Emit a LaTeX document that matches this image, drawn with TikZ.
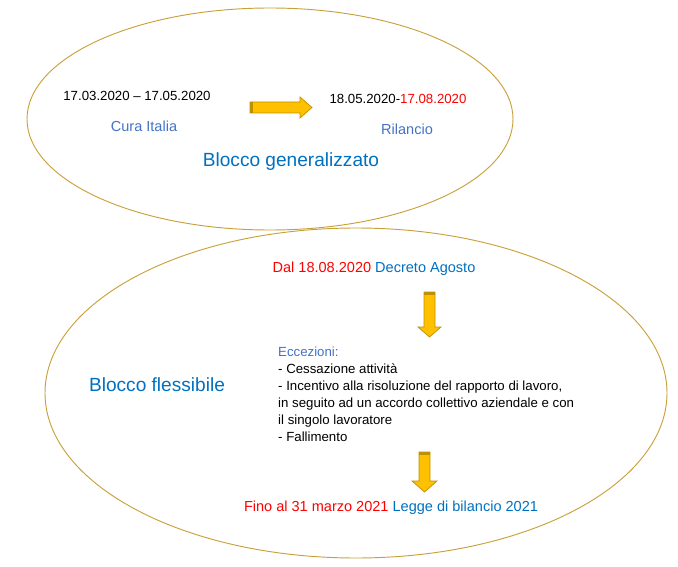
\documentclass[tikz,border=0pt]{standalone}
\usepackage{fontspec}
\setmainfont{Liberation Sans}
\usepackage{xcolor}

\definecolor{ringgold}{HTML}{C9A13B}
\definecolor{arrowfill}{HTML}{FFC000}
\definecolor{arrowline}{HTML}{BF9000}
\definecolor{softblue}{HTML}{4472C4}
\definecolor{deepblue}{HTML}{0070C0}
\definecolor{datered}{HTML}{FF0000}

\tikzset{
  ring/.style={draw=ringgold, line width=0.8pt},
  label/.style={inner sep=0pt, font=\fontsize{11.3}{13.5}\selectfont},
  wordlabel/.style={inner sep=0pt, font=\fontsize{12.4}{14.5}\selectfont},
  bigtitle/.style={inner sep=0pt, text=deepblue, font=\fontsize{16.3}{19}\selectfont},
  goldarrow/.style={fill=arrowfill, draw=arrowline, line width=0.6pt, line join=miter}
}

\begin{document}
\begin{tikzpicture}[x=0.03cm, y=-0.03cm]
\useasboundingbox (0,0) rectangle (678,567);

% the two periods
\draw[ring] (270,119) ellipse [x radius=243, y radius=111];
\draw[ring] (356,393) ellipse [x radius=311, y radius=165];

% upper ellipse
\node[label] (curadate) at (137,96) {17.03.2020 -- 17.05.2020};
\node[wordlabel, text=softblue] (cura) at (144,126) {Cura Italia};
\node[label] (rilanciodate) at (398,99) {18.05.2020-\textcolor{datered}{17.08.2020}};
\node[wordlabel, text=softblue] (rilancio) at (407,129) {Rilancio};
\node[bigtitle] (generale) at (291,162) {Blocco generalizzato};

% right arrow
\draw[goldarrow] (250,102) -- (300,102) -- (300,97) -- (312,107.5)
  -- (300,118) -- (300,113) -- (250,113) -- cycle;
\fill[arrowline] (250,102) rectangle (253,113);

% lower ellipse
\node[wordlabel] (agosto) at (374,269)
  {\textcolor{datered}{Dal 18.08.2020} \textcolor{deepblue}{Decreto Agosto}};
\node[bigtitle] (flessibile) at (157,385) {Blocco flessibile};
\node[label, anchor=north west, align=left,
  font=\fontsize{11.3}{14.5}\selectfont] (eccezioni) at (278,347)
  {\textcolor{softblue}{Eccezioni:}\\
   - Cessazione attività\\
   - Incentivo alla risoluzione del rapporto di lavoro,\\
   in seguito ad un accordo collettivo aziendale e con\\
   il singolo lavoratore\\
   - Fallimento};
\node[wordlabel] (bilancio) at (391,508)
  {\textcolor{datered}{Fino al 31 marzo 2021} \textcolor{deepblue}{Legge di bilancio 2021}};

% down arrows
\draw[goldarrow] (424,292) -- (435,292) -- (435,327) -- (441,327) -- (429.5,337)
  -- (418,327) -- (424,327) -- cycle;
\fill[arrowline] (424,292) rectangle (435,295);
\draw[goldarrow] (419,452) -- (430,452) -- (430,481) -- (437,481) -- (424.5,492)
  -- (412,481) -- (419,481) -- cycle;
\fill[arrowline] (419,452) rectangle (430,455);
\end{tikzpicture}
\end{document}
